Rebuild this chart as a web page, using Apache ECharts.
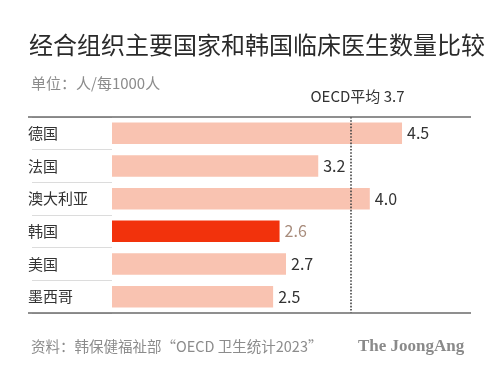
<!DOCTYPE html>
<html><head><meta charset="utf-8">
<script src="https://cdn.jsdelivr.net/npm/echarts@6/dist/echarts.min.js"></script>
<style>html,body{margin:0;padding:0;background:#fff}#c{width:499px;height:369px}</style>
</head><body><div id="c"></div>
<script>
const categories = ['德国','法国','澳大利亚','韩国','美国','墨西哥'];
const values = [4.5, 3.2, 4.0, 2.6, 2.7, 2.5];
const highlight = '韩国';
const oecdAvg = 3.7;
const oecdLabel = 'OECD平均 3.7';
const titleText = '经合组织主要国家和韩国临床医生数量比较';
const subText = '单位：人/每1000人';
const sourceText = '资料：韩保健福祉部“OECD 卫生统计2023”';
const brandText = 'The JoongAng';

const FONT = '"Noto Sans CJK SC", "Noto Sans", sans-serif';
const chart = echarts.init(document.getElementById('c'), null, {renderer:'canvas'});
chart.setOption({
  animation:false,
  backgroundColor:'#fff',
  textStyle:{fontFamily:FONT},
  title:[
    {text:titleText, left:24, top:28, textStyle:{fontSize:24, fontWeight:'normal', color:'#2a2a2a', fontFamily:FONT}},
    {text:subText, left:26, top:71, textStyle:{fontSize:15, fontWeight:'normal', color:'#8c8c8c', fontFamily:FONT}},
    {text:sourceText, left:26, top:334, textStyle:{fontSize:14.5, fontWeight:'normal', color:'#8c8c8c', fontFamily:FONT}},
    {text:brandText, left:353, top:333, textStyle:{fontSize:17, fontWeight:'bold', color:'#8a8a8a', fontFamily:'"Liberation Serif", "DejaVu Serif", serif'}}
  ],
  grid:{left:112, right:64.75, top:117, bottom:56},
  xAxis:{type:'value', min:0, max:5, show:false},
  yAxis:{
    type:'category', data:categories, inverse:true, offset:4,
    axisLine:{show:false},
    axisTick:{show:true, length:80, lineStyle:{color:'#dcdcdc', width:1}},
    axisLabel:{align:'left', margin:80, fontSize:15, color:'#333', fontFamily:FONT}
  },
  series:[{
    type:'bar', barWidth:21.5,
    data: values.map((v,i)=>({
      value:v,
      itemStyle:{color: categories[i]===highlight ? '#f2320c' : '#f9c3b1'},
      label:{color: categories[i]===highlight ? '#a88c7c' : '#333'}
    })),
    label:{show:true, position:'right', distance:5, fontSize:16, formatter:p=>p.value.toFixed(1), fontFamily:FONT},
    markLine:{
      silent:true, symbol:'none',
      lineStyle:{type:'dotted', color:'#444', width:1.6},
      label:{show:true, position:'start', formatter:oecdLabel, fontSize:15, color:'#333', offset:[7,-8], fontFamily:FONT},
      data:[{xAxis:oecdAvg}]
    }
  }],
  graphic:[
    {type:'line', z:100, shape:{x1:28,y1:117,x2:471,y2:117}, style:{stroke:'#6a6a6a', lineWidth:1.5}},
    {type:'line', z:100, shape:{x1:28,y1:313,x2:471,y2:313}, style:{stroke:'#6a6a6a', lineWidth:1.5}}
  ]
});
</script></body></html>
